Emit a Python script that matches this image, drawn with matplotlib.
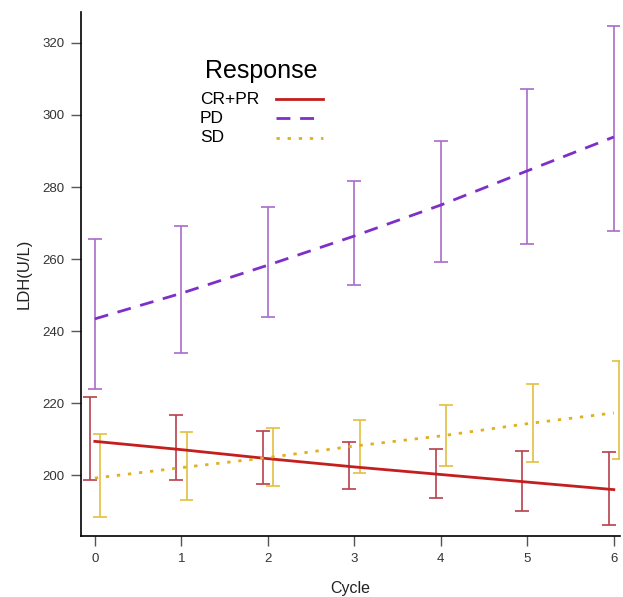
import matplotlib

matplotlib.use("Agg")
import matplotlib.pyplot as plt
import numpy as np

plt.rcParams["font.family"] = ["Liberation Sans", "DejaVu Sans"]

# ciclos y grupos de respuesta
cycles = np.arange(7)
groups = ["CR+PR", "PD", "SD"]

# curva ajustada por grupo
cr_fit = [209.4, 207.1, 204.6, 202.3, 200.2, 198.1, 196.0]
pd_fit = [243.4, 250.5, 258.3, 266.4, 275.0, 284.5, 293.9]
sd_fit = [199.2, 202.1, 204.9, 208.1, 210.9, 214.3, 217.3]

# limites de las barras de error
cr_upper = [221.8, 216.6, 212.2, 209.1, 207.3, 206.7, 206.5]
cr_lower = [198.6, 198.6, 197.7, 196.3, 193.6, 190.1, 186.3]
pd_upper = [265.6, 269.1, 274.4, 281.7, 292.9, 307.3, 324.7]
pd_lower = [223.8, 233.9, 243.8, 252.8, 259.3, 264.2, 267.7]
sd_upper = [211.4, 211.9, 213.1, 215.4, 219.5, 225.2, 231.7]
sd_lower = [188.4, 193.1, 197.1, 200.6, 202.5, 203.8, 204.4]

fits = [cr_fit, pd_fit, sd_fit]
upper = [cr_upper, pd_upper, sd_upper]
lower = [cr_lower, pd_lower, sd_lower]

line_colors = ["#C41E1E", "#7E2FC8", "#E0B020"]
bar_colors = ["#B8404A", "#A86CCB", "#E2C040"]
styles = ["-", (0, (5, 3.5)), (0, (1.2, 2.8))]
dodge = [-0.06, 0.0, 0.06]

fig = plt.figure(figsize=(6.23, 5.97), dpi=100)
ax = fig.add_axes([0.130, 0.102, 0.865, 0.878])

for i, g in enumerate(groups):
    xs = cycles + dodge[i]
    up = np.array(upper[i])
    lo = np.array(lower[i])
    ax.vlines(xs, lo, up, color=bar_colors[i], linewidth=1.2)
    for y in (up, lo):
        ax.hlines(y, xs - 0.08, xs + 0.08, color=bar_colors[i], linewidth=1.2)
    ax.plot(cycles, fits[i], color=line_colors[i], linestyle=styles[i],
            linewidth=2.0, zorder=3)

ax.set_xlim(-0.16, 6.07)
ax.set_ylim(183.1, 328.6)
ax.set_xticks(cycles)
ax.set_yticks(np.arange(200, 321, 20))

for side in ("top", "right"):
    ax.spines[side].set_visible(False)
for side in ("left", "bottom"):
    ax.spines[side].set_linewidth(1.2)

ax.tick_params(axis="both", direction="out", length=7, width=1.0,
               color="#555555", labelcolor="#333333", labelsize=9.5, pad=5)

ax.set_xlabel("Cycle", fontsize=11.5, color="#222222", labelpad=12)
ax.set_ylabel("LDH(U/L)", fontsize=12, color="#222222", labelpad=7.5)

# leyenda manual: texto a la izquierda, muestra de linea a la derecha
ax.text(0.334, 0.887, "Response", transform=ax.transAxes, fontsize=18,
        ha="center", va="center")
legend_y = [0.833, 0.797, 0.760]
for i, g in enumerate(groups):
    ax.text(0.221, legend_y[i], g, transform=ax.transAxes, fontsize=12.5,
            ha="left", va="center")
    ax.plot([0.362, 0.449], [legend_y[i], legend_y[i]], transform=ax.transAxes,
            color=line_colors[i], linestyle=styles[i], linewidth=2.0)

fig.savefig("out.png", dpi=100)
